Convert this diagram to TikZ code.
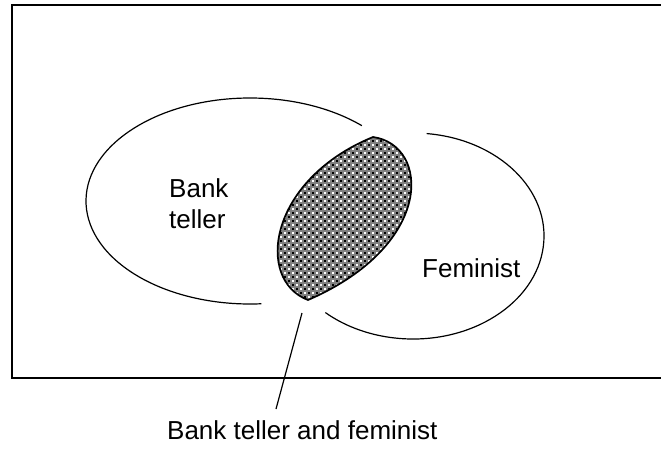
\documentclass[tikz,border=0pt]{standalone}
\usepackage{fontspec}
\setmainfont{Liberation Sans}
\begin{document}
\begin{tikzpicture}[x=1pt,y=-1pt,
  venn/.style={line width=1.2pt},
  frameline/.style={line width=2pt},
  leader/.style={line width=1.2pt},
  lensedge/.style={line width=1.7pt},
  lbl/.style={font=\fontsize{26}{31}\selectfont, inner sep=0pt, anchor=base west}]
\useasboundingbox (0,0) rectangle (661,448);
% frame
\draw[frameline] (661,5) -- (12,5) -- (12,378) -- (661,378);
% ellipse centres
\coordinate (bt) at (250,201);
\coordinate (fm) at (413,236);
\draw[venn] (bt) ++(-47:164 and 103) arc[start angle=-47,end angle=-274,x radius=164,y radius=103];
\draw[venn] (fm) ++(-84:131 and 103) arc[start angle=-84,end angle=132,x radius=131,y radius=103];
% lens (intersection)
\coordinate (lenstop) at (373,137);
\coordinate (lensbot) at (308,300);
\begin{scope}
\clip (lenstop) .. controls (430,145) and (435,245) .. (lensbot) .. controls (255,280) and (268,180) .. (lenstop) -- cycle;
\fill[black!50] (260,130) rectangle (420,305);
\foreach \i in {0,...,19}{
  \foreach \j in {0,...,22}{
    \fill[white] ({264+8*\i},{132+8*\j}) rectangle +(1.7,1.7);
    \fill[white] ({268+8*\i},{136+8*\j}) rectangle +(1.7,1.7);
    \fill[black] ({268+8*\i},{132+8*\j}) rectangle +(1.7,1.7);
    \fill[black] ({264+8*\i},{136+8*\j}) rectangle +(1.7,1.7);
  }
}
\end{scope}
\draw[lensedge] (lenstop) .. controls (430,145) and (435,245) .. (lensbot) .. controls (255,280) and (268,180) .. (lenstop) -- cycle;
% labels
\node[lbl] (bank) at (169,197) {Bank};
\node[lbl] (teller) at (169,228) {teller};
\node[lbl] (fem) at (422,277) {Feminist};
\node[lbl] (both) at (167,439) {Bank teller and feminist};
% leader line
\coordinate (lt) at (302,313);
\coordinate (lb) at (276,409);
\draw[leader] (lb) -- (lt);
\end{tikzpicture}
\end{document}
